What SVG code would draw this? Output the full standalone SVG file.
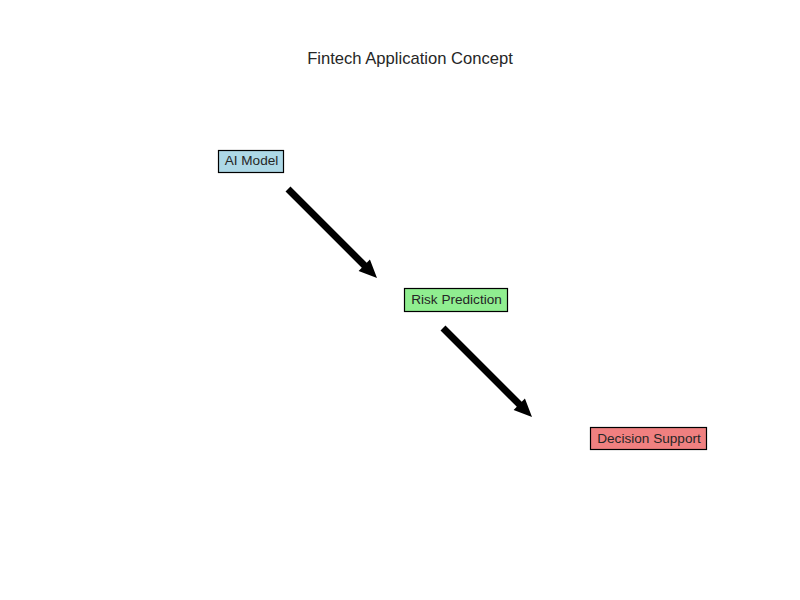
<svg xmlns="http://www.w3.org/2000/svg" width="800" height="600" viewBox="0 0 800 600">
<style>
text{font-family:"Liberation Sans",Arial,sans-serif;fill:#262626}
.lbl{font-size:13.6px;text-anchor:middle}
.box{stroke:#000;stroke-width:1.2}
.arr{fill:#000}
</style>
<defs>
<polygon id="arrow" class="arr" points="290.47,186.53 366.74,262.80 369.93,259.61 377,278 358.61,270.93 361.80,267.74 285.53,191.47"/>
</defs>
<rect width="800" height="600" fill="#fff"/>
<text x="410" y="64" font-size="16.6" text-anchor="middle">Fintech Application Concept</text>
<g id="connectors">
<use href="#arrow"/>
<use href="#arrow" transform="translate(155,139)"/>
</g>
<g id="ai-model">
<rect class="box" x="218.5" y="150.5" width="65" height="22" fill="#add8e6"/>
<text class="lbl" x="251.5" y="164.5">AI Model</text>
</g>
<g id="risk-prediction">
<rect class="box" x="404.5" y="288.5" width="103" height="23" fill="#90ee90"/>
<text class="lbl" x="456.5" y="303.5">Risk Prediction</text>
</g>
<g id="decision-support">
<rect class="box" x="590.5" y="427.5" width="116" height="22" fill="#f08080"/>
<text class="lbl" x="649" y="442.5">Decision Support</text>
</g>
</svg>
